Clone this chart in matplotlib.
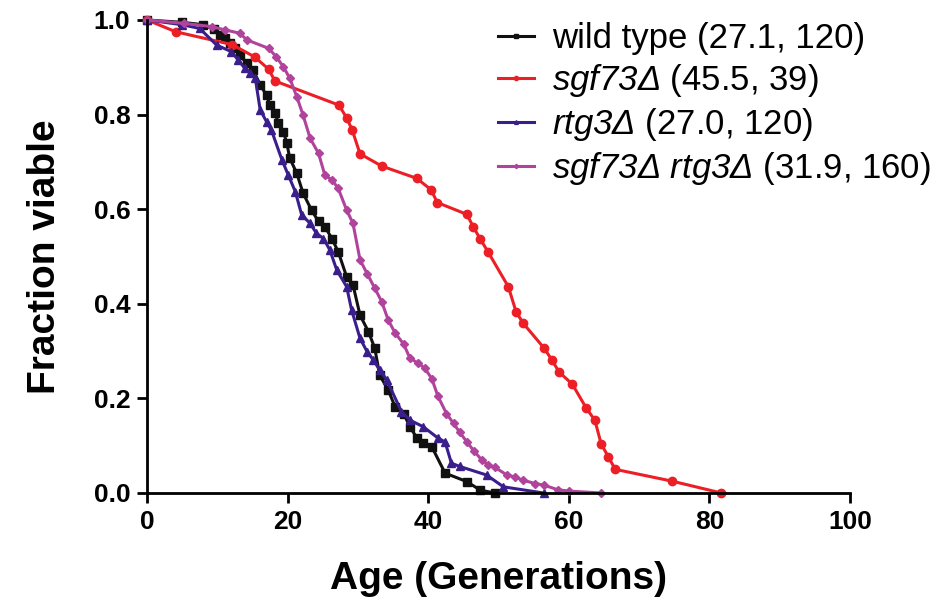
import matplotlib
matplotlib.use('Agg')
import matplotlib.pyplot as plt

plt.rcParams['font.family'] = ['Liberation Sans', 'DejaVu Sans']
# gene names are set in math mode, which is made fully italic here
plt.rcParams['mathtext.fontset'] = 'custom'
plt.rcParams['mathtext.rm'] = 'Liberation Sans:italic'
plt.rcParams['mathtext.it'] = 'Liberation Sans:italic'

# survival curves (age in generations, fraction viable)
wt_age = [0, 5, 8, 9.5, 10.4, 11.1, 11.8, 12.5, 13.2, 14.2, 15.1, 16.1, 17.0, 17.5,
          18.2, 18.7, 19.4, 19.9, 20.3, 21.3, 22.2, 23.4, 24.4, 25.3, 26.3, 27.2,
          28.4, 29.3, 30.3, 31.5, 32.4, 33.1, 34.3, 35.3, 36.5, 37.4, 38.4, 39.3,
          40.5, 42.4, 45.5, 47.4, 49.5]
wt_frac = [1.0, 0.995, 0.99, 0.98, 0.968, 0.961, 0.951, 0.94, 0.926, 0.908, 0.894,
           0.863, 0.841, 0.82, 0.803, 0.782, 0.764, 0.739, 0.708, 0.676, 0.634,
           0.598, 0.574, 0.563, 0.538, 0.51, 0.457, 0.44, 0.376, 0.341, 0.306,
           0.249, 0.218, 0.182, 0.168, 0.14, 0.116, 0.105, 0.098, 0.042, 0.024,
           0.006, 0.0]

sgf_age = [0, 4.1, 12.1, 15.3, 17.3, 18.2, 27.3, 28.4, 29.2, 30.3, 33.4, 38.4,
           40.4, 41.3, 45.5, 46.4, 47.4, 48.5, 51.4, 52.5, 53.5, 56.5, 57.6, 58.6,
           60.5, 62.5, 63.7, 64.6, 65.6, 66.6, 74.7, 81.7]
sgf_frac = [1.0, 0.975, 0.948, 0.922, 0.896, 0.871, 0.82, 0.793, 0.767, 0.717,
            0.691, 0.665, 0.641, 0.614, 0.589, 0.563, 0.537, 0.51, 0.436, 0.383,
            0.359, 0.306, 0.281, 0.256, 0.23, 0.179, 0.154, 0.104, 0.077, 0.05,
            0.025, 0.0]

rtg_age = [0, 5, 7.5, 9.9, 12.0, 13.0, 13.9, 14.7, 15.4, 16.1, 17.0, 17.7, 19.2,
           20.1, 21.1, 22.0, 23.2, 24.1, 25.1, 26.0, 27.0, 28.4, 29.1, 30.3, 31.3,
           32.2, 33.1, 34.1, 36.2, 37.4, 39.3, 41.4, 42.4, 43.3, 44.5, 48.3, 50.7,
           56.4]
rtg_frac = [1.0, 0.99, 0.982, 0.947, 0.933, 0.915, 0.898, 0.887, 0.877, 0.81,
            0.785, 0.767, 0.704, 0.672, 0.637, 0.588, 0.57, 0.549, 0.538, 0.514,
            0.471, 0.436, 0.387, 0.327, 0.299, 0.281, 0.26, 0.239, 0.172, 0.154,
            0.14, 0.116, 0.108, 0.063, 0.056, 0.038, 0.013, 0.0]

dbl_age = [0, 5.2, 9.2, 11.1, 13.2, 14.2, 17.3, 18.4, 19.4, 20.3, 21.3, 22.2, 23.2,
           24.4, 25.3, 26.3, 27.2, 28.4, 29.3, 30.3, 31.3, 32.4, 33.4, 34.3, 35.3,
           36.5, 37.4, 38.6, 39.5, 40.5, 41.4, 42.6, 43.6, 44.5, 45.5, 46.5, 47.6,
           48.5, 49.5, 51.2, 52.3, 53.5, 55.2, 56.4, 58.4, 60.0, 64.6]
dbl_frac = [1.0, 0.993, 0.986, 0.979, 0.972, 0.958, 0.94, 0.922, 0.901, 0.877,
            0.838, 0.799, 0.75, 0.718, 0.672, 0.662, 0.644, 0.598, 0.57, 0.493,
            0.464, 0.433, 0.404, 0.366, 0.338, 0.315, 0.285, 0.274, 0.264, 0.242,
            0.204, 0.168, 0.147, 0.128, 0.108, 0.089, 0.07, 0.06, 0.054, 0.038,
            0.034, 0.027, 0.02, 0.017, 0.007, 0.004, 0.0]

labels = [
    'wild type (27.1, 120)',
    r'$sgf73Δ$ (45.5, 39)',
    r'$rtg3Δ$ (27.0, 120)',
    r'$sgf73Δ\ rtg3Δ$ (31.9, 160)',
]
colors = ['#111111', '#ec1f26', '#3a1f8c', '#b0449c']
markers = ['s', 'o', '^', 'D']
msizes = [5.5, 6, 5.5, 4.5]

fig = plt.figure(figsize=(9.49, 6.09), dpi=100)
ax = fig.add_axes([0.1549, 0.1905, 0.7408, 0.7767])

series = [(wt_age, wt_frac), (sgf_age, sgf_frac), (rtg_age, rtg_frac), (dbl_age, dbl_frac)]
for (xs, ys), lab, c, m, ms in zip(series, labels, colors, markers, msizes):
    ax.plot(xs, ys, color=c, marker=m, markersize=ms, linewidth=2.2, label=lab,
            clip_on=False)

ax.set_xlim(0, 100)
ax.set_ylim(0, 1.0)
ax.set_xticks([0, 20, 40, 60, 80, 100])
ax.set_yticks([0.0, 0.2, 0.4, 0.6, 0.8, 1.0])
ax.set_yticklabels(['0.0', '0.2', '0.4', '0.6', '0.8', '1.0'])
ax.spines['top'].set_visible(False)
ax.spines['right'].set_visible(False)
ax.spines['left'].set_linewidth(2)
ax.spines['bottom'].set_linewidth(2)
ax.tick_params(direction='out', length=7, width=2, labelsize=19, pad=5)
for t in ax.get_xticklabels() + ax.get_yticklabels():
    t.set_fontweight('bold')

ax.set_xlabel('Age (Generations)', fontsize=28, fontweight='bold', labelpad=20)
ax.set_ylabel('Fraction viable', fontsize=28, fontweight='bold', labelpad=22)

leg = ax.legend(loc='upper left', bbox_to_anchor=(0.499, 0.995), frameon=False,
                fontsize=25, handlelength=1.05, handletextpad=0.5,
                labelspacing=0.2, borderpad=0, borderaxespad=0, markerscale=0.5)

fig.savefig('out.png', dpi=100)
